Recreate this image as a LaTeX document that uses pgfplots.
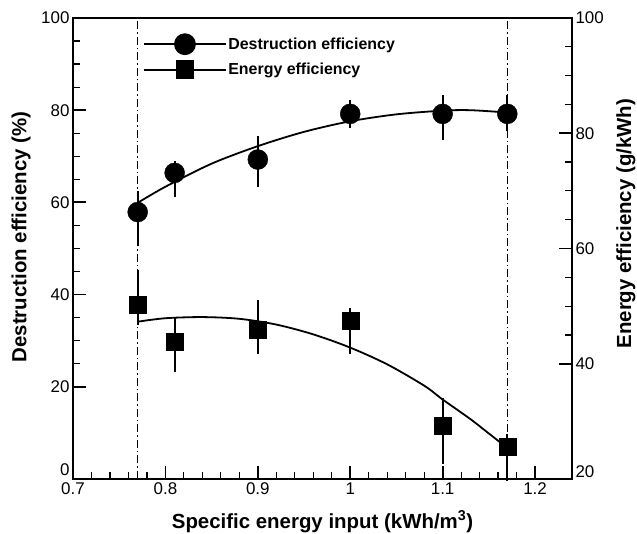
\documentclass[border=0pt]{standalone}
\usepackage{fontspec}
\setmainfont{Liberation Sans}
\usepackage{pgfplots}
\pgfplotsset{compat=1.18}
\newcommand\tk{\fontsize{17}{17}\selectfont}
\newcommand\lb{\bfseries\fontsize{20.5}{22}\selectfont}
\pgfplotsset{
  common/.style={
    at={(0,0)}, anchor=south west,
    scale only axis, width=499bp, height=461bp,
    xmin=0.7, xmax=1.24,
    /pgf/number format/assume math mode=true,
    xticklabel={\tk\pgfmathprintnumber{\tick}},
    yticklabel={\tk\pgfmathprintnumber{\tick}},
    tick align=inside,
    major tick length=13bp, minor tick length=7bp,
    every major tick/.style={black, line width=1.8bp},
    every minor tick/.style={black, line width=1.2bp},
    axis line style={line width=2bp},
    clip=false,
  },
  ebar/.style={
    error bars/.cd, y dir=both, y explicit,
    error bar style={line width=2bp},
    error mark options={mark size=7bp, line width=2bp},
  },
}
\begin{document}
\begin{tikzpicture}
\useasboundingbox (-73bp,-55bp) rectangle (564bp,479bp);
\begin{axis}[common,
  ymin=0, ymax=100,
  xtick={0.7,0.8,0.9,1,1.1,1.2}, minor x tick num=4,
  ytick={20,40,60,80,100}, minor y tick num=3,
  extra y ticks={0},
  extra y tick style={yticklabel style={yshift=9bp}},
  xtick pos=bottom, ytick pos=left,
  every axis x label/.style={at={(axis description cs:0.5,0)}, yshift=-49bp, anchor=base},
  every axis y label/.style={at={(axis description cs:0,0.525)}, xshift=-52bp, rotate=90, anchor=center},
  xlabel={\lb Specific energy input (kWh/m\textsuperscript{3})},
  ylabel={\lb Destruction efficiency (\%)},
  legend image code/.code={
    \draw[mark repeat=2,mark phase=2,#1] plot coordinates {(0bp,0bp) (41bp,0bp) (82bp,0bp)};
  },
  legend style={at={(axis description cs:0.14,1)}, anchor=north west, yshift=-16bp,
    draw=none, fill=none, inner sep=0pt, row sep=7bp,
    font=\bfseries\fontsize{16}{17}\selectfont,
    nodes={inner sep=1.5bp}},
  legend cell align=left,
]
\addlegendimage{black, line width=1.8bp, mark=*, mark size=10bp}
\addlegendentry{Destruction efficiency}
\addlegendimage{black, line width=1.8bp, mark=square*, mark size=8.5bp}
\addlegendentry{Energy efficiency}
% vertical dash-dot lines
\addplot[forget plot, black, line width=0.9bp, dash pattern=on 8bp off 3bp on 1.5bp off 3bp] coordinates {(0.77,0) (0.77,100)};
\addplot[forget plot, black, line width=0.9bp, dash pattern=on 8bp off 3bp on 1.5bp off 3bp] coordinates {(1.17,0) (1.17,100)};
% destruction fit
\addplot[forget plot, black, line width=1.8bp, smooth] coordinates {
 (0.77,59.9) (0.80,63.4) (0.85,68.4) (0.90,72.2) (0.95,75.3) (1.00,77.6) (1.05,79.1) (1.10,79.9) (1.13,80.0) (1.17,79.5)};
% destruction data
\addplot[forget plot, black, only marks, mark=*, mark size=10bp, ebar] coordinates {
 (0.77,57.9) += (0,3.0) -= (0,5.9)
 (0.81,66.4) += (0,1.0) -= (0,3.7)
 (0.90,69.3) += (0,3.5) -= (0,4.4)
 (1.00,79.2) += (0,1.5) -= (0,1.5)
 (1.10,79.2) += (0,2.6) -= (0,4.2)
 (1.17,79.2) += (0,2.6) -= (0,2.3)
};
\end{axis}
\begin{axis}[common,
  ymin=20, ymax=100,
  axis x line=none,
  axis y line*=right,
  tick align=inside,
  ytick={40,60,80,100}, minor y tick num=3,
  extra y ticks={20},
  extra y tick style={yticklabel style={yshift=7bp}},
  every axis y label/.style={at={(axis description cs:1,0.554)}, xshift=54bp, rotate=90, anchor=center},
  ylabel={\lb Energy efficiency (g/kWh)},
]
% energy fit
\addplot[black, line width=1.8bp, smooth] coordinates {
 (0.77,47.3) (0.80,47.9) (0.84,48.1) (0.88,47.8) (0.92,46.8) (0.96,45.1) (1.00,42.8) (1.04,39.9) (1.08,36.2) (1.10,33.8) (1.13,30.4) (1.15,27.9) (1.17,25.4)};
% energy data
\addplot[black, only marks, mark=square*, mark size=8.5bp, ebar] coordinates {
 (0.77,50.2) += (0,4.8) -= (0,2.3)
 (0.81,43.8) += (0,3.1) -= (0,4.0)
 (0.90,45.9) += (0,3.9) -= (0,3.0)
 (1.00,47.5) += (0,1.0) -= (0,4.6)
 (1.10,29.3) += (0,3.5) -= (0,5.4)
 (1.17,25.6) += (0,1.0) -= (0,4.8)
};
\end{axis}
\end{tikzpicture}
\end{document}
